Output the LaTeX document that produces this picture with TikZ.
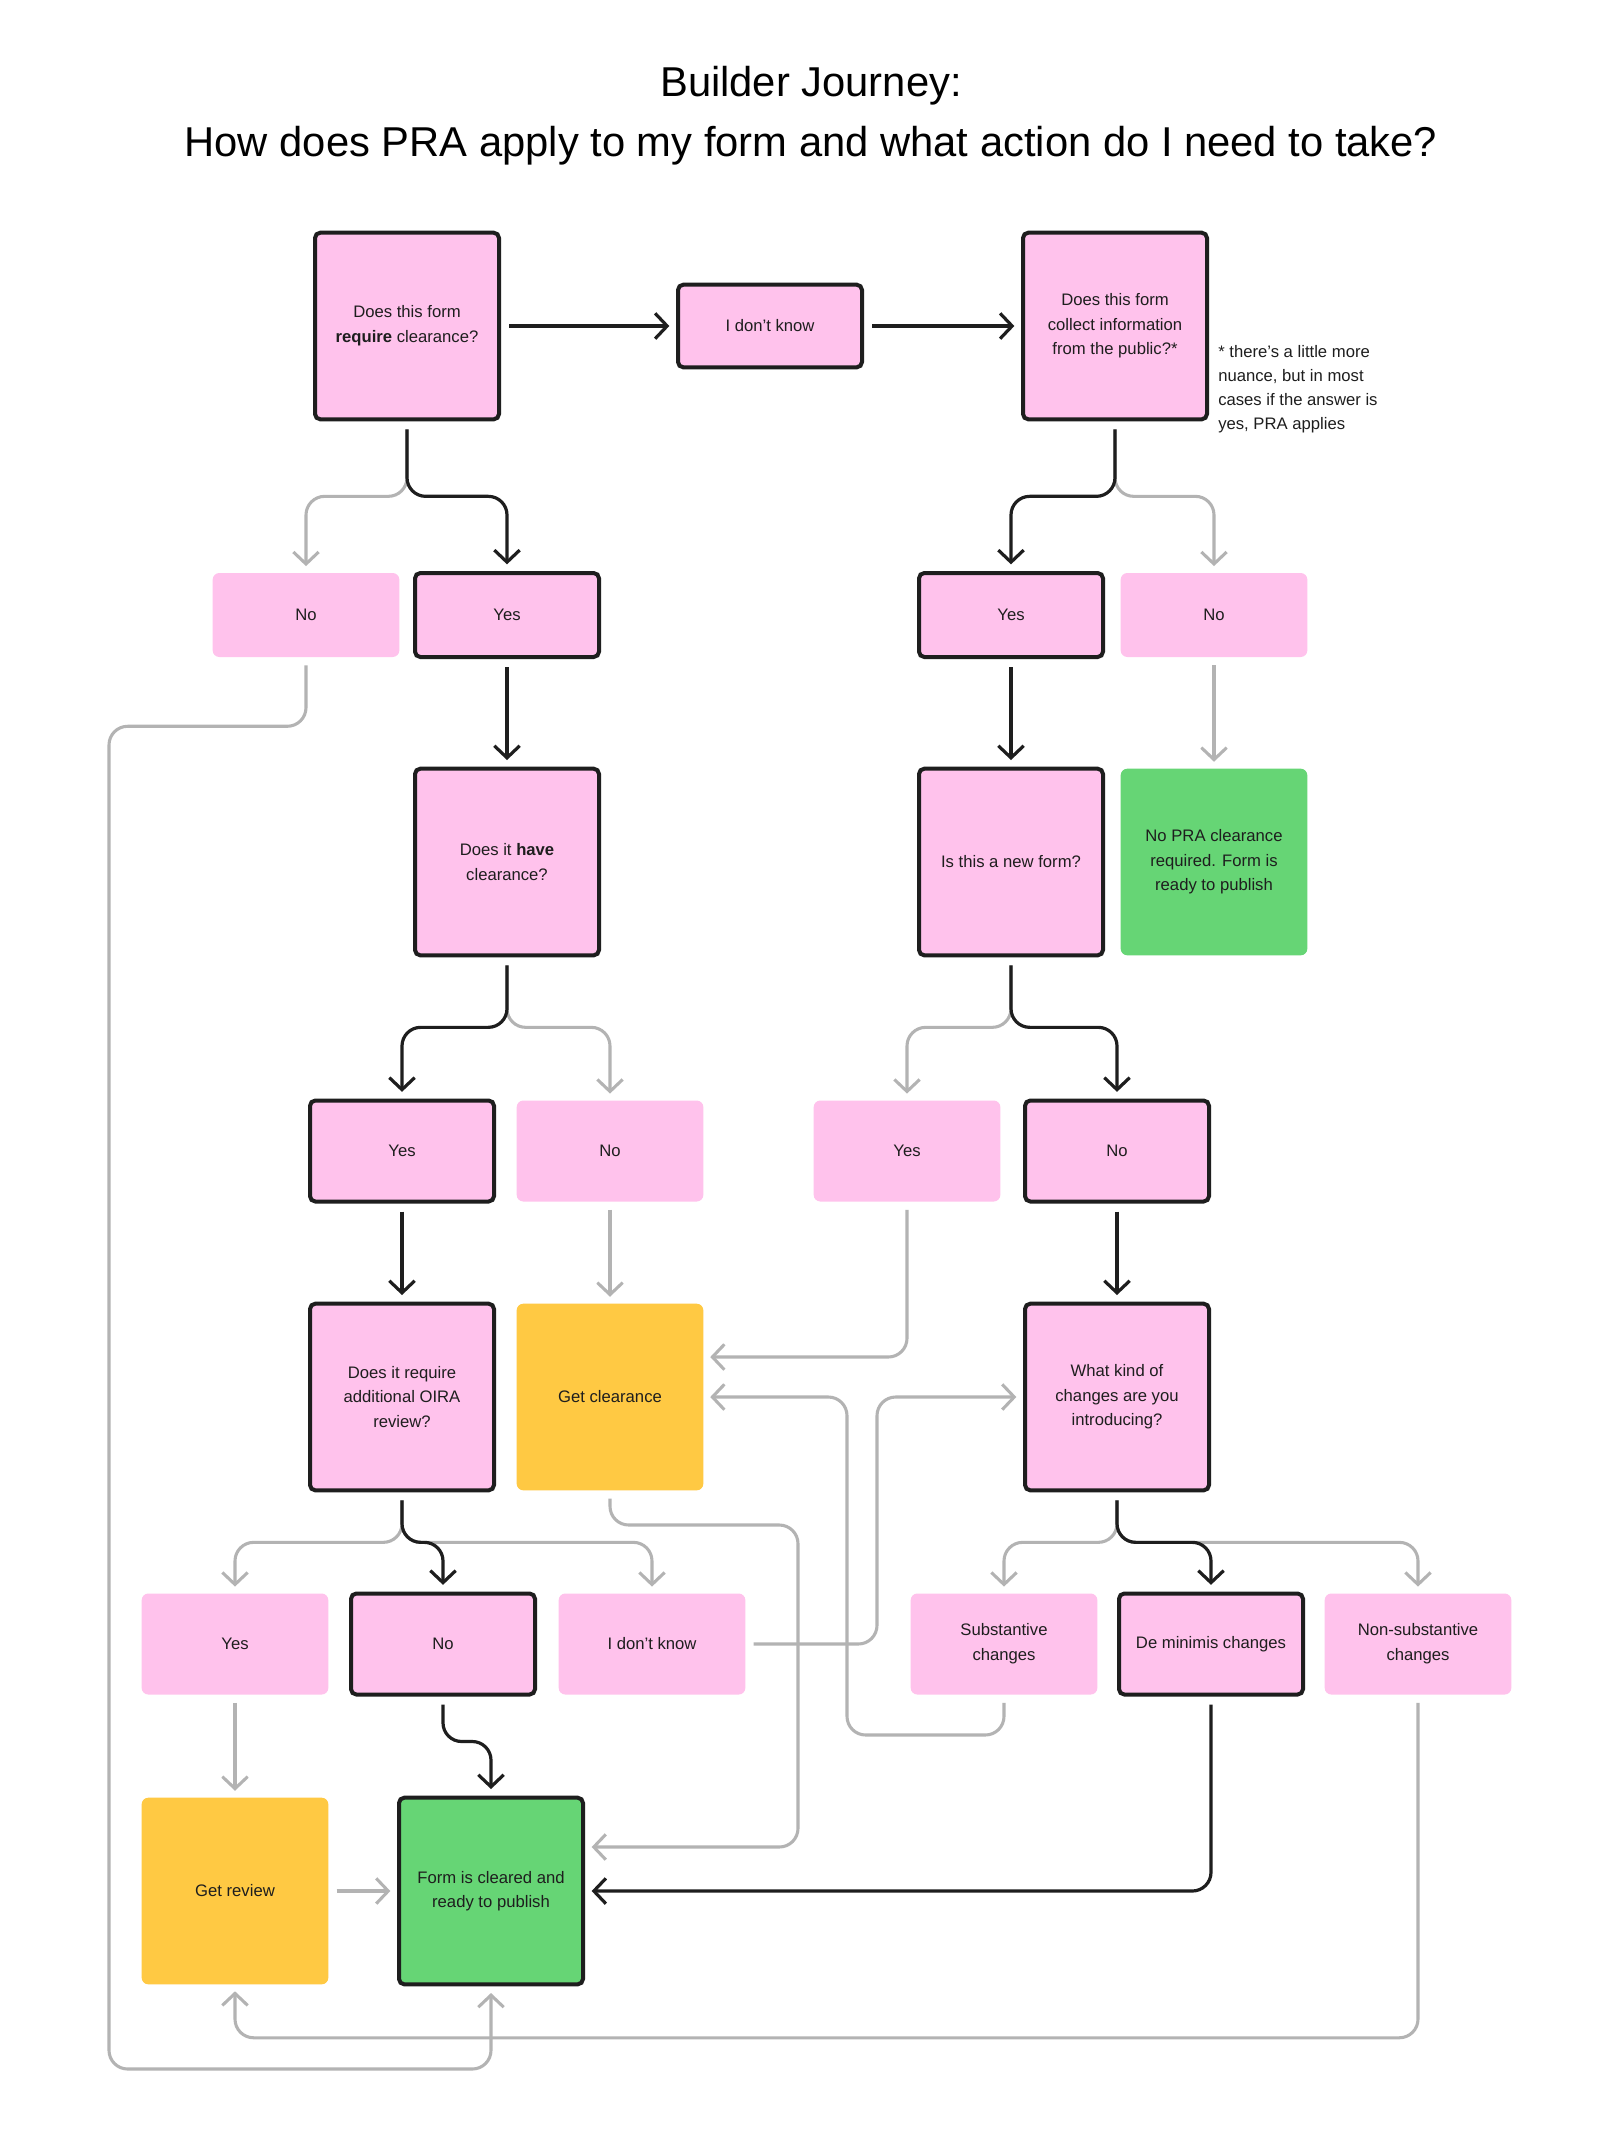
\documentclass[tikz,border=0pt]{standalone}
\usepackage{fontspec}
\setmainfont{Liberation Sans}
\usetikzlibrary{arrows.meta}
\definecolor{pinkf}{HTML}{FFC2EC}
\definecolor{yellowf}{HTML}{FFC943}
\definecolor{greenf}{HTML}{66D575}
\definecolor{inkc}{HTML}{1E1E1E}
\definecolor{grayc}{HTML}{B3B3B3}
\begin{document}
\begin{tikzpicture}[x=0.75pt,y=-0.75pt,
  box/.style={rectangle, rounded corners=5pt, minimum width=140pt, align=center,
    text=inkc, font=\fontsize{12.5pt}{18.5pt}\selectfont, inner sep=2pt},
  pinkbox/.style={box, fill=pinkf},
  yellowbox/.style={box, fill=yellowf},
  greenbox/.style={box, fill=greenf},
  strong/.style={draw=inkc, line width=3pt, rounded corners=4pt, minimum width=138pt},
  tall/.style={minimum height=140pt},
  short/.style={minimum height=63pt},
  mid/.style={minimum height=75.75pt},
  blk/.style={draw=inkc, line width=2.4pt, rounded corners=14pt,
    -{Straight Barb[length=9pt,width=19pt]}, shorten <=6pt, shorten >=5pt},
  gry/.style={blk, draw=grayc, line width=2.3pt},
  titlefont/.style={text=black, font=\fontsize{31.3pt}{36pt}\selectfont},
]
\useasboundingbox (0,0) rectangle (1622,2143);
\fill[white] (0,0) rectangle (1622,2143);

% title
\node[titlefont] (t1) at (811,86) {Builder Journey:};
\node[titlefont] (t2) at (811,146) {How does PRA apply to my form and what action do I need to take?};

% row 1
\node[pinkbox, strong, tall] (q1) at (407,326) {Does this form\\\textbf{require} clearance?};
\node[pinkbox, strong, minimum height=62pt] (idk1) at (770,326) {I don’t know};
\node[pinkbox, strong, tall] (q2) at (1115,326) {Does this form\\collect information\\from the public?*};
\node[anchor=base west, align=left, text=inkc, inner sep=0pt,
  font=\fontsize{12.5pt}{18pt}\selectfont] (note) at (1218,429)
  {* there’s a little more\\nuance, but in most\\cases if the answer is\\yes, PRA applies};

% row 2
\node[pinkbox, short] (no1) at (306,615) {No};
\node[pinkbox, strong, short] (yes1) at (507,615) {Yes};
\node[pinkbox, strong, short] (yes2) at (1011,615) {Yes};
\node[pinkbox, short] (no2) at (1214,615) {No};

% row 3
\node[pinkbox, strong, tall] (q3) at (507,862) {Does it \textbf{have}\\clearance?};
\node[pinkbox, strong, tall] (q4) at (1011,862) {Is this a new form?};
\node[greenbox, tall] (ok1) at (1214,862) {No PRA clearance\\required. Form is\\ready to publish};

% row 4
\node[pinkbox, strong, mid] (yes3) at (402,1151) {Yes};
\node[pinkbox, mid] (no3) at (610,1151) {No};
\node[pinkbox, mid] (yes4) at (907,1151) {Yes};
\node[pinkbox, strong, mid] (no4) at (1117,1151) {No};

% row 5
\node[pinkbox, strong, tall] (q5) at (402,1397) {Does it require\\additional OIRA\\review?};
\node[yellowbox, tall] (gc) at (610,1397) {Get clearance};
\node[pinkbox, strong, tall] (q6) at (1117,1397) {What kind of\\changes are you\\introducing?};

% row 6
\node[pinkbox, mid] (yes5) at (235,1644) {Yes};
\node[pinkbox, strong, mid] (no5) at (443,1644) {No};
\node[pinkbox, mid] (idk2) at (652,1644) {I don’t know};
\node[pinkbox, mid] (sub) at (1004,1644) {Substantive\\changes};
\node[pinkbox, strong, mid] (dem) at (1211,1644) {De minimis changes};
\node[pinkbox, mid] (nons) at (1418,1644) {Non-substantive\\changes};

% row 7
\node[yellowbox, tall] (gr) at (235,1891) {Get review};
\node[greenbox, strong, tall] (fc) at (491,1891) {Form is cleared and\\ready to publish};

% gray connectors
\draw[gry] (q1.south) -- ++(0,75) -| (no1.north);
\draw[gry] (q2.south) -- ++(0,75) -| (no2.north);
\draw[gry] (no1.south) -- ++(0,69) -| (109,2069) -| (fc.south);
\draw[gry] (q3.south) -- ++(0,70) -| (no3.north);
\draw[gry] (q4.south) -- ++(0,70) -| (yes4.north);
\draw[gry] (no2.south) -- (ok1.north);
\draw[gry] (no3.south) -- (gc.north);
\draw[gry] (yes4.south) |- ([yshift=30pt]gc.east);
\draw[gry] (sub.south) |- (847,1735) |- (gc.east);
\draw[gry] (idk2.east) -| (877,1397) -- (q6.west);
\draw[gry] (gc.south) |- (798,1525) |- ([yshift=33pt]fc.east);
\draw[gry] (q5.south) -- ++(0,50) -| (yes5.north);
\draw[gry] (q5.south) -- ++(0,50) -| (idk2.north);
\draw[gry] (q6.south) -- ++(0,50) -| (sub.north);
\draw[gry] (q6.south) -- ++(0,50) -| (nons.north);
\draw[gry] (yes5.south) -- (gr.north);
\draw[gry] (gr.east) -- (fc.west);
\draw[gry] (nons.south) -- ++(0,343) -| (gr.south);

% black connectors
\draw[blk] (q1.east) -- (idk1.west);
\draw[blk] (idk1.east) -- (q2.west);
\draw[blk] (q1.south) -- ++(0,75) -| (yes1.north);
\draw[blk] (q2.south) -- ++(0,75) -| (yes2.north);
\draw[blk] (yes1.south) -- (q3.north);
\draw[blk] (yes2.south) -- (q4.north);
\draw[blk] (q3.south) -- ++(0,70) -| (yes3.north);
\draw[blk] (q4.south) -- ++(0,70) -| (no4.north);
\draw[blk] (yes3.south) -- (q5.north);
\draw[blk] (no4.south) -- (q6.north);
\draw[blk] (q5.south) -- ++(0,50) -| (no5.north);
\draw[blk] (q6.south) -- ++(0,50) -| (dem.north);
\draw[blk] (no5.south) -- ++(0,45) -| (fc.north);
\draw[blk] (dem.south) |- (fc.east);
\end{tikzpicture}
\end{document}
